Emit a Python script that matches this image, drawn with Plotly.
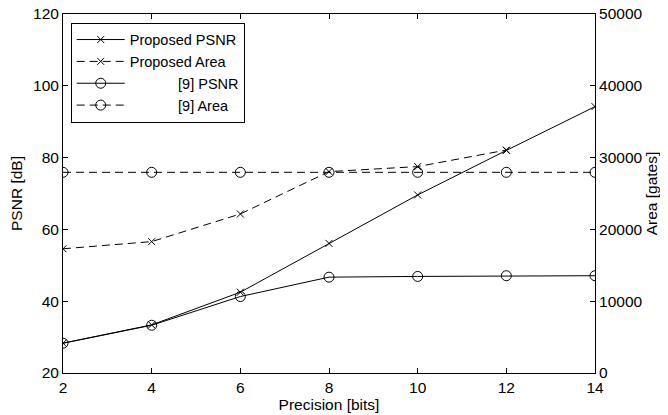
import plotly.graph_objects as go

precision = [2, 4, 6, 8, 10, 12, 14]
proposed_psnr = [28.3, 33.4, 42.5, 56.1, 69.6, 82.0, 94.2]
ref9_psnr = [28.3, 33.3, 41.3, 46.7, 46.9, 47.1, 47.1]
precision_area = [2, 4, 6, 8, 10, 12]
proposed_area = [17300, 18300, 22150, 28050, 28750, 31050]
ref9_area = [27950, 27950, 27950, 27950, 27950, 27950, 27950]

FONT = "Liberation Sans, Arial, sans-serif"
FS = 15.5
NB = "\u00a0"

fig = go.Figure()
fig.add_trace(go.Scatter(x=precision, y=proposed_psnr, name="Proposed PSNR",
                         mode="lines+markers",
                         line=dict(color="black", width=1),
                         marker=dict(symbol="x-thin-open", size=7, color="black",
                                     line=dict(color="black", width=1))))
fig.add_trace(go.Scatter(x=precision_area, y=proposed_area, name="Proposed Area", yaxis="y2",
                         mode="lines+markers",
                         line=dict(color="black", width=1, dash="8px,5px"),
                         marker=dict(symbol="x-thin-open", size=7, color="black",
                                     line=dict(color="black", width=1))))
fig.add_trace(go.Scatter(x=precision, y=ref9_psnr, name=NB * 12 + "[9] PSNR",
                         mode="lines+markers",
                         line=dict(color="black", width=1),
                         marker=dict(symbol="circle-open", size=10, color="black",
                                     line=dict(color="black", width=1))))
fig.add_trace(go.Scatter(x=precision, y=ref9_area, name=NB * 12 + "[9] Area", yaxis="y2",
                         mode="lines+markers",
                         line=dict(color="black", width=1, dash="8px,5px"),
                         marker=dict(symbol="circle-open", size=10, color="black",
                                     line=dict(color="black", width=1))))

axis_common = dict(showgrid=False, zeroline=False, showline=True, linecolor="black",
                   linewidth=1, ticks="inside", ticklen=5, tickcolor="black",
                   automargin=False, ticklabeloverflow="allow",
                   tickfont=dict(family=FONT, size=FS, color="black"))

fig.update_layout(
    width=668, height=415,
    margin=dict(l=55, r=81, t=6, b=50),
    plot_bgcolor="white", paper_bgcolor="white",
    font=dict(family=FONT, size=FS, color="black"),
    xaxis=dict(range=[2, 14], tickvals=precision, mirror="ticks",
               title=dict(text="Precision [bits]", font=dict(family=FONT, size=FS), standoff=4),
               **axis_common),
    yaxis=dict(range=[20, 120], dtick=20,
               title=dict(text="PSNR [dB]", font=dict(family=FONT, size=FS), standoff=8),
               **axis_common),
    yaxis2=dict(range=[0, 50000], dtick=10000, overlaying="y", side="right",
                tickformat="d",
                title=dict(text="Area [gates]", font=dict(family=FONT, size=FS), standoff=2),
                **axis_common),
    legend=dict(x=0.0145, y=0.976, xanchor="left", yanchor="top",
                bgcolor="white", bordercolor="black", borderwidth=1,
                font=dict(family=FONT, size=14.5, color="black"),
                tracegroupgap=0, itemwidth=48),
    showlegend=True,
)

fig.write_html("out.html")
